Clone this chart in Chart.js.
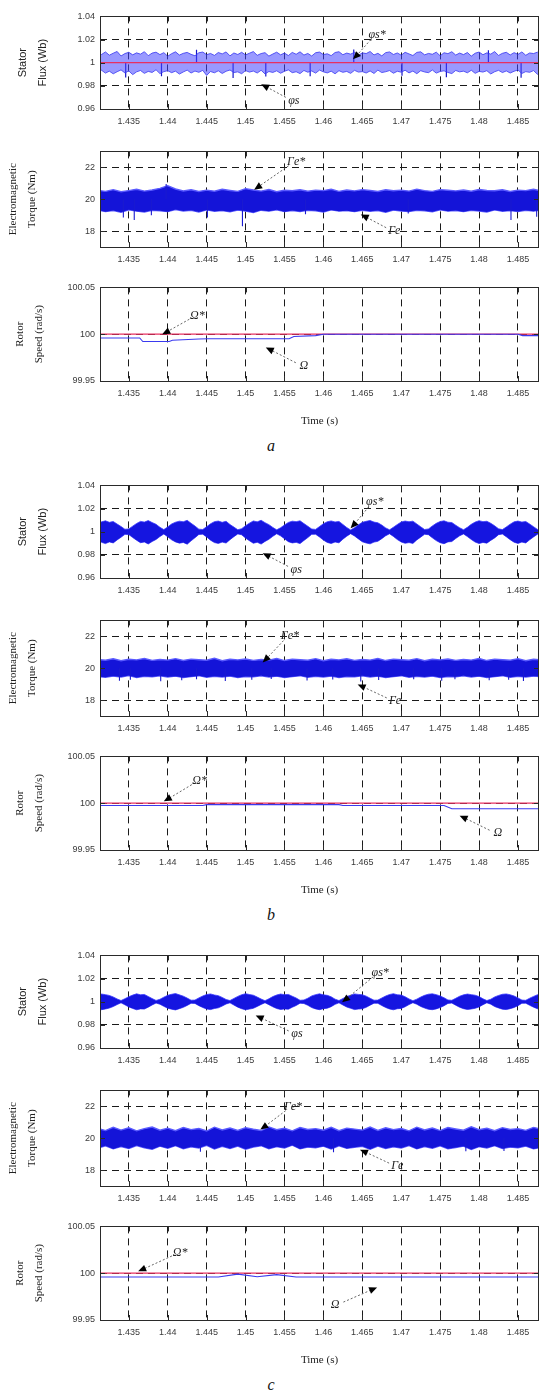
<!DOCTYPE html>
<html>
<head>
<meta charset="utf-8">
<script src="https://cdn.jsdelivr.net/npm/chart.js@4.4.1/dist/chart.umd.min.js"></script>
<style>
  html, body { margin: 0; padding: 0; background: #fff; }
  #fig { position: relative; width: 542px; height: 1391px; overflow: hidden; background: #fff; }
  #fig canvas { position: absolute; left: 0; }
  .tag { position: absolute; left: 0; width: 542px; text-align: center;
         font: italic 16px "Liberation Serif", "DejaVu Serif", serif; color: #111; line-height: 18px; }
</style>
</head>
<body>
<div id="fig"></div>
<script>
// ---- axes ----
const X_MIN = 1.4313, X_MAX = 1.4877;
const X_TICKS = [1.435, 1.44, 1.445, 1.45, 1.455, 1.46, 1.465, 1.47, 1.475, 1.48, 1.485];
const X_TICK_LABELS = ['1.435', '1.44', '1.445', '1.45', '1.455', '1.46', '1.465', '1.47', '1.475', '1.48', '1.485'];
const FLUX_TICKS = [0.96, 0.98, 1, 1.02, 1.04];
const FLUX_TICK_LABELS = ['0.96', '0.98', '1', '1.02', '1.04'];
const TORQUE_TICKS = [18, 20, 22];
const TORQUE_TICK_LABELS = ['18', '20', '22'];
const SPEED_TICKS = [99.95, 100, 100.05];
const SPEED_TICK_LABELS = ['99.95', '100', '100.05'];

// ---- references ----
const REF_T = [1.431, 1.488];
const FLUX_REF = [1, 1];
const TORQUE_REF = [20, 20];
const SPEED_REF = [100, 100];

// ---- stator flux envelopes (sampled every 0.5 ms from 1.431 s) ----
const FLUX_T0 = 1.431, FLUX_DT = 0.0005;
const FLUX_A_UP = [
1.0088,1.0071,1.0093,1.0065,1.0082,1.0097,1.0058,1.0079,1.0090,1.0068,
1.0085,1.0074,1.0095,1.0061,1.0083,1.0091,1.0070,1.0087,1.0056,1.0078,
1.0094,1.0066,1.0081,1.0089,1.0072,1.0060,1.0086,1.0092,1.0069,1.0080,
1.0063,1.0088,1.0076,1.0093,1.0059,1.0084,1.0071,1.0090,1.0067,1.0082,
1.0096,1.0064,1.0079,1.0087,1.0057,1.0075,1.0091,1.0068,1.0083,1.0062,
1.0089,1.0073,1.0094,1.0066,1.0080,1.0058,1.0086,1.0092,1.0070,1.0077,
1.0061,1.0088,1.0095,1.0069,1.0083,1.0074,1.0090,1.0063,1.0085,1.0079,
1.0097,1.0067,1.0081,1.0059,1.0087,1.0093,1.0071,1.0084,1.0065,1.0090,
1.0076,1.0062,1.0089,1.0094,1.0068,1.0080,1.0073,1.0091,1.0060,1.0086,
1.0078,1.0095,1.0066,1.0083,1.0070,1.0088,1.0057,1.0082,1.0092,1.0069,
1.0085,1.0074,1.0096,1.0063,1.0081,1.0090,1.0067,1.0087,1.0072,1.0093,
1.0064,1.0084,1.0079,1.0091,1.0070];
const FLUX_A_LO = [
0.9918,0.9935,0.9910,0.9927,0.9904,0.9922,0.9938,0.9912,0.9929,0.9897,
0.9921,0.9933,0.9908,0.9925,0.9916,0.9939,0.9906,0.9923,0.9931,0.9914,
0.9927,0.9902,0.9920,0.9936,0.9911,0.9928,0.9917,0.9934,0.9890,0.9924,
0.9913,0.9930,0.9907,0.9926,0.9937,0.9915,0.9921,0.9905,0.9932,0.9919,
0.9928,0.9911,0.9935,0.9903,0.9924,0.9916,0.9930,0.9909,0.9926,0.9938,
0.9914,0.9922,0.9906,0.9933,0.9918,0.9929,0.9910,0.9936,0.9921,0.9912,
0.9927,0.9904,0.9931,0.9917,0.9925,0.9908,0.9934,0.9919,0.9923,0.9911,
0.9929,0.9907,0.9936,0.9915,0.9922,0.9932,0.9909,0.9926,0.9918,0.9935,
0.9912,0.9928,0.9905,0.9931,0.9920,0.9914,0.9937,0.9910,0.9924,0.9930,
0.9916,0.9906,0.9933,0.9921,0.9927,0.9913,0.9935,0.9908,0.9925,0.9919,
0.9931,0.9903,0.9922,0.9934,0.9915,0.9929,0.9911,0.9926,0.9938,0.9907,
0.9923,0.9917,0.9932,0.9900,0.9920];
const FLUX_A_SPIKE_T = [1.4346, 1.4392, 1.4437, 1.4484, 1.4526, 1.4583, 1.4639, 1.4701, 1.4758, 1.4812, 1.4854];
const FLUX_A_SPIKE_V = [0.9872, 0.9884, 1.0112, 0.9868, 0.9880, 0.9883, 1.0115, 0.9887, 0.9875, 1.0108, 0.9870];

const FLUX_B_UP = [
1.0072,1.0085,1.0094,1.0081,1.0088,1.0066,1.0045,1.0021,1.0024,1.0048,
1.0071,1.0089,1.0083,1.0096,1.0079,1.0064,1.0038,1.0018,1.0041,1.0067,
1.0082,1.0091,1.0086,1.0098,1.0073,1.0049,1.0022,1.0019,1.0043,1.0068,
1.0087,1.0092,1.0081,1.0090,1.0062,1.0040,1.0017,1.0026,1.0052,1.0074,
1.0093,1.0085,1.0099,1.0078,1.0061,1.0037,1.0016,1.0034,1.0058,1.0080,
1.0091,1.0087,1.0094,1.0070,1.0047,1.0023,1.0020,1.0044,1.0069,1.0086,
1.0093,1.0084,1.0089,1.0063,1.0036,1.0015,1.0035,1.0059,1.0081,1.0090,
1.0097,1.0083,1.0077,1.0057,1.0033,1.0016,1.0039,1.0062,1.0084,1.0092,
1.0086,1.0091,1.0067,1.0042,1.0019,1.0024,1.0050,1.0072,1.0088,1.0094,
1.0082,1.0079,1.0056,1.0034,1.0017,1.0038,1.0064,1.0083,1.0095,1.0087,
1.0090,1.0073,1.0051,1.0025,1.0018,1.0041,1.0065,1.0085,1.0092,1.0083,
1.0088,1.0066,1.0043,1.0020,1.0023];
const FLUX_B_LO = [
0.9925,0.9908,0.9897,0.9912,0.9903,0.9929,0.9952,0.9977,0.9975,0.9950,
0.9926,0.9905,0.9911,0.9894,0.9915,0.9933,0.9958,0.9980,0.9956,0.9930,
0.9912,0.9901,0.9907,0.9892,0.9921,0.9948,0.9976,0.9979,0.9955,0.9927,
0.9906,0.9899,0.9910,0.9902,0.9931,0.9957,0.9981,0.9973,0.9945,0.9922,
0.9900,0.9909,0.9893,0.9916,0.9934,0.9960,0.9982,0.9964,0.9939,0.9914,
0.9903,0.9908,0.9897,0.9924,0.9949,0.9977,0.9978,0.9954,0.9928,0.9907,
0.9898,0.9911,0.9904,0.9935,0.9961,0.9983,0.9963,0.9938,0.9913,0.9902,
0.9895,0.9910,0.9917,0.9940,0.9965,0.9982,0.9959,0.9932,0.9911,0.9900,
0.9906,0.9899,0.9929,0.9953,0.9978,0.9974,0.9947,0.9923,0.9905,0.9896,
0.9912,0.9915,0.9941,0.9964,0.9981,0.9958,0.9933,0.9910,0.9898,0.9907,
0.9901,0.9925,0.9946,0.9974,0.9980,0.9956,0.9931,0.9909,0.9899,0.9910,
0.9903,0.9930,0.9955,0.9978,0.9975];

const FLUX_C_UP = [
1.0058,1.0066,1.0061,1.0054,1.0041,1.0024,1.0010,1.0026,1.0043,1.0057,
1.0068,1.0060,1.0063,1.0045,1.0027,1.0011,1.0021,1.0039,1.0055,1.0064,
1.0070,1.0059,1.0048,1.0031,1.0013,1.0014,1.0033,1.0049,1.0062,1.0067,
1.0058,1.0052,1.0037,1.0019,1.0010,1.0028,1.0046,1.0060,1.0069,1.0062,
1.0056,1.0040,1.0023,1.0009,1.0025,1.0044,1.0058,1.0066,1.0061,1.0063,
1.0047,1.0032,1.0012,1.0015,1.0030,1.0050,1.0061,1.0068,1.0059,1.0055,
1.0042,1.0022,1.0010,1.0027,1.0045,1.0056,1.0067,1.0063,1.0060,1.0048,
1.0030,1.0013,1.0014,1.0032,1.0049,1.0062,1.0069,1.0060,1.0057,1.0043,
1.0024,1.0009,1.0022,1.0040,1.0055,1.0065,1.0068,1.0061,1.0050,1.0034,
1.0015,1.0012,1.0029,1.0047,1.0059,1.0066,1.0061,1.0056,1.0044,1.0025,
1.0010,1.0021,1.0041,1.0054,1.0064,1.0067,1.0060,1.0049,1.0033,1.0014,
1.0012,1.0030,1.0046,1.0060,1.0065];
const FLUX_C_LO = [
0.9940,0.9931,0.9937,0.9945,0.9958,0.9975,0.9990,0.9973,0.9955,0.9942,
0.9930,0.9938,0.9936,0.9953,0.9972,0.9988,0.9978,0.9960,0.9944,0.9935,
0.9929,0.9940,0.9951,0.9968,0.9986,0.9985,0.9966,0.9950,0.9937,0.9932,
0.9941,0.9947,0.9962,0.9980,0.9990,0.9971,0.9953,0.9939,0.9930,0.9936,
0.9943,0.9959,0.9976,0.9991,0.9974,0.9956,0.9941,0.9933,0.9938,0.9935,
0.9952,0.9967,0.9987,0.9984,0.9969,0.9949,0.9938,0.9931,0.9940,0.9944,
0.9957,0.9977,0.9990,0.9972,0.9954,0.9943,0.9932,0.9936,0.9939,0.9951,
0.9970,0.9987,0.9986,0.9967,0.9950,0.9937,0.9930,0.9939,0.9942,0.9956,
0.9975,0.9991,0.9978,0.9959,0.9945,0.9934,0.9931,0.9938,0.9949,0.9965,
0.9985,0.9988,0.9970,0.9952,0.9940,0.9933,0.9937,0.9943,0.9955,0.9974,
0.9990,0.9979,0.9958,0.9946,0.9935,0.9932,0.9940,0.9950,0.9966,0.9986,
0.9987,0.9969,0.9953,0.9939,0.9934];

// ---- electromagnetic torque envelopes (sampled every 1 ms from 1.431 s) ----
const TORQUE_T0 = 1.431, TORQUE_DT = 0.001;
const TORQUE_A_UP = [
20.56,20.49,20.60,20.47,20.54,20.62,20.51,20.58,20.68,20.85,
20.64,20.52,20.59,20.48,20.57,20.50,20.62,20.55,20.49,20.66,
20.58,20.51,20.61,20.47,20.56,20.53,20.59,20.50,20.57,20.54,
20.62,20.49,20.58,20.52,20.60,20.55,20.48,20.59,20.53,20.57,
20.51,20.63,20.54,20.49,20.60,20.56,20.52,20.58,20.50,20.61,
20.55,20.53,20.59,20.48,20.57,20.54,20.62,20.51];
const TORQUE_A_LO = [
19.32,19.22,19.29,19.18,19.34,19.25,19.20,19.31,19.27,19.22,
19.35,19.26,19.30,19.19,19.33,19.24,19.28,19.21,19.32,19.26,
19.17,19.31,19.25,19.34,19.22,19.29,19.23,19.30,19.27,19.20,
19.33,19.25,19.28,19.22,19.31,19.24,19.29,19.18,19.32,19.26,
19.23,19.30,19.27,19.21,19.34,19.25,19.29,19.22,19.31,19.26,
19.20,19.33,19.24,19.28,19.23,19.30,19.25,19.32];
const TORQUE_A_SPIKE_T = [1.4343, 1.4357, 1.4379, 1.4398, 1.4451, 1.4496, 1.4577, 1.4709, 1.4841, 1.4874];
const TORQUE_A_SPIKE_V = [18.85, 18.70, 19.00, 20.95, 18.85, 18.30, 19.05, 19.10, 18.70, 18.90];

const TORQUE_B_UP = [
20.55,20.50,20.59,20.47,20.56,20.52,20.61,20.49,20.55,20.51,
20.60,20.48,20.57,20.53,20.50,20.62,20.47,20.56,20.52,20.58,
20.49,20.55,20.51,20.61,20.48,20.57,20.53,20.50,20.60,20.47,
20.56,20.52,20.59,20.49,20.55,20.51,20.61,20.48,20.57,20.53,
20.50,20.60,20.47,20.56,20.52,20.58,20.49,20.55,20.51,20.61,
20.48,20.57,20.53,20.50,20.60,20.47,20.56,20.52];
const TORQUE_B_LO = [
19.48,19.43,19.51,19.45,19.54,19.42,19.49,19.46,19.52,19.44,
19.50,19.41,19.47,19.53,19.43,19.49,19.45,19.51,19.42,19.48,
19.46,19.52,19.44,19.50,19.41,19.47,19.53,19.43,19.49,19.45,
19.51,19.42,19.48,19.46,19.52,19.44,19.50,19.41,19.47,19.53,
19.43,19.49,19.45,19.51,19.42,19.48,19.46,19.52,19.44,19.50,
19.41,19.47,19.53,19.43,19.49,19.45,19.51,19.46];
const TORQUE_B_SPIKE_T = [1.4338, 1.4352, 1.4391, 1.4418, 1.4437, 1.4474, 1.4508, 1.4533, 1.4579, 1.4612, 1.4648, 1.4671, 1.4716, 1.4752, 1.4769, 1.4813, 1.4838, 1.4857];
const TORQUE_B_SPIKE_V = [19.22, 19.28, 19.18, 19.25, 19.30, 19.20, 19.27, 19.32, 19.23, 19.29, 19.17, 19.26, 19.30, 19.21, 19.31, 19.24, 19.28, 19.19];

const TORQUE_C_UP = [
20.62,20.48,20.68,20.51,20.65,20.46,20.60,20.70,20.50,20.63,
20.47,20.67,20.54,20.61,20.45,20.69,20.52,20.64,20.49,20.66,
20.56,20.48,20.71,20.53,20.62,20.46,20.67,20.55,20.60,20.50,
20.68,20.47,20.63,20.57,20.51,20.70,20.49,20.65,20.54,20.61,
20.46,20.69,20.52,20.64,20.48,20.67,20.58,20.50,20.72,20.53,
20.62,20.47,20.66,20.55,20.60,20.49,20.68,20.56];
const TORQUE_C_LO = [
19.38,19.52,19.33,19.48,19.36,19.54,19.40,19.31,19.50,19.37,
19.53,19.34,19.46,19.39,19.55,19.32,19.49,19.35,19.51,19.30,
19.45,19.53,19.34,19.47,19.38,19.56,19.33,19.44,19.40,19.50,
19.32,19.52,19.36,19.43,19.49,19.31,19.51,19.35,19.46,19.39,
19.54,19.33,19.48,19.37,19.52,19.34,19.42,19.50,19.29,19.47,
19.38,19.53,19.35,19.45,19.40,19.51,19.33,19.43];
const TORQUE_C_SPIKE_T = [1.4442, 1.4613, 1.4783, 1.4832];
const TORQUE_C_SPIKE_V = [19.15, 19.12, 19.18, 19.20];

// ---- rotor speed (breakpoints) ----
const SPEED_A_T = [1.431, 1.4364, 1.4368, 1.4402, 1.4406, 1.4440, 1.4452, 1.4556, 1.4562, 1.4590, 1.4600, 1.4850, 1.4856, 1.488];
const SPEED_A   = [99.9960, 99.9960, 99.9922, 99.9922, 99.9935, 99.9948, 99.9952, 99.9952, 99.9975, 99.9985, 100.0, 100.0, 99.9985, 99.9985];
const SPEED_B_T = [1.431, 1.4445, 1.4450, 1.4620, 1.4625, 1.4755, 1.4765, 1.488];
const SPEED_B   = [99.9975, 99.9975, 99.9985, 99.9985, 99.9975, 99.9975, 99.9940, 99.9940];
const SPEED_C_T = [1.431, 1.4465, 1.4490, 1.4515, 1.4540, 1.4565, 1.488];
const SPEED_C   = [99.9960, 99.9960, 99.9990, 99.9962, 99.9985, 99.9960, 99.9960];

// ---- arrow labels (label point -> arrow tip, data units) ----
const FLUX_NOTES = [
  [{ text: 'φs*', lx: 1.4669, ly: 1.0243, tx: 1.4638, ty: 1.0029 }, { text: 'φs', lx: 1.4562, ly: 0.9674, tx: 1.4520, ty: 0.9814 }],
  [{ text: 'φs*', lx: 1.4666, ly: 1.0260, tx: 1.4635, ty: 1.0029 }, { text: 'φs', lx: 1.4565, ly: 0.9674, tx: 1.4522, ty: 0.9814 }],
  [{ text: 'φs*', lx: 1.4673, ly: 1.0251, tx: 1.4624, ty: 0.9996 }, { text: 'φs', lx: 1.4566, ly: 0.9723, tx: 1.4513, ty: 0.9880 }]
];
const TORQUE_NOTES = [
  [{ text: 'Γe*', lx: 1.4565, ly: 22.34, tx: 1.4511, ty: 20.60 }, { text: 'Γe', lx: 1.4691, ly: 18.02, tx: 1.4648, ty: 19.04 }],
  [{ text: 'Γe*', lx: 1.4557, ly: 22.04, tx: 1.4522, ty: 20.36 }, { text: 'Γe', lx: 1.4692, ly: 17.96, tx: 1.4644, ty: 18.98 }],
  [{ text: 'Γe*', lx: 1.4561, ly: 21.98, tx: 1.4519, ty: 20.54 }, { text: 'Γe', lx: 1.4695, ly: 18.26, tx: 1.4647, ty: 19.28 }]
];
const SPEED_NOTES = [
  [{ text: 'Ω*', lx: 1.4438, ly: 100.0194, tx: 1.4393, ty: 100.0 }, { text: 'Ω', lx: 1.4575, ly: 99.9663, tx: 1.4526, ty: 99.9857 }],
  [{ text: 'Ω*', lx: 1.4441, ly: 100.0235, tx: 1.4395, ty: 100.002 }, { text: 'Ω', lx: 1.4824, ly: 99.968, tx: 1.4775, ty: 99.9867 }],
  [{ text: 'Ω*', lx: 1.4416, ly: 100.0214, tx: 1.4362, ty: 100.002 }, { text: 'Ω', lx: 1.4615, ly: 99.9663, tx: 1.4669, ty: 99.9847 }]
];

const GROUP_TAGS = ['a', 'b', 'c'];

// ---- layout (pixels) ----
const GROUP_SHIFT = [0, 469, 939];
const PANEL_BOX = {
  flux:   { top: 12,  h: 97,  below: 24 },
  torque: { top: 147, h: 100, below: 24 },
  speed:  { top: 283, h: 98,  below: 52 }
};
const TAG_TOP = 437;
const PAD_TOP = 6;

const RED = '#e83060';
const SANS = '"Liberation Sans", Arial, sans-serif';
const SERIF = '"Liberation Serif", "Times New Roman", serif';

// ---- helpers turning the arrays into {x, y} points ----
const sampled = (t0, dt, vals) => vals.map((v, i) => ({ x: +(t0 + i * dt).toFixed(4), y: v }));
const pairs = (ts, vs) => ts.map((t, i) => ({ x: t, y: vs[i] }));
const strokes = (ts, vs, base) => {
  const out = [];
  ts.forEach((t, i) => { out.push({ x: t, y: base }, { x: t, y: vs[i] }, { x: t, y: null }); });
  return out;
};

// box outline and inward tick marks
const frame = {
  id: 'frame',
  afterDraw(chart) {
    const { ctx, chartArea: a, scales: { x, y } } = chart;
    ctx.save();
    ctx.strokeStyle = '#2a2a2a';
    ctx.lineWidth = 1;
    ctx.setLineDash([]);
    ctx.beginPath();
    x.ticks.forEach(t => {
      const p = Math.round(x.getPixelForValue(t.value)) + 0.5;
      ctx.moveTo(p, a.top); ctx.lineTo(p, a.top + 5);
      ctx.moveTo(p, a.bottom); ctx.lineTo(p, a.bottom - 5);
    });
    y.ticks.forEach(t => {
      const p = Math.round(y.getPixelForValue(t.value)) + 0.5;
      ctx.moveTo(a.left, p); ctx.lineTo(a.left + 5, p);
      ctx.moveTo(a.right, p); ctx.lineTo(a.right - 5, p);
    });
    ctx.stroke();
    ctx.strokeRect(Math.round(a.left) + 0.5, Math.round(a.top) + 0.5,
                   Math.round(a.right - a.left) - 1, Math.round(a.bottom - a.top));
    ctx.restore();
  }
};

// leader lines with arrowheads and their labels
const arrowNotes = {
  id: 'arrowNotes',
  afterDatasetsDraw(chart, args, opts) {
    const items = opts.items || [];
    const { ctx, scales: { x, y } } = chart;
    ctx.save();
    items.forEach(n => {
      const lx = x.getPixelForValue(n.lx), ly = y.getPixelForValue(n.ly);
      const tx = x.getPixelForValue(n.tx), ty = y.getPixelForValue(n.ty);
      const dx = tx - lx, dy = ty - ly, len = Math.hypot(dx, dy);
      const ux = dx / len, uy = dy / len;
      ctx.strokeStyle = '#555';
      ctx.lineWidth = 0.9;
      ctx.setLineDash([2, 2]);
      ctx.beginPath();
      ctx.moveTo(lx + ux * 9, ly + uy * 7);
      ctx.lineTo(tx - ux * 5, ty - uy * 5);
      ctx.stroke();
      ctx.setLineDash([]);
      const bx = tx - ux * 8, by = ty - uy * 8;
      ctx.fillStyle = '#000';
      ctx.beginPath();
      ctx.moveTo(tx, ty);
      ctx.lineTo(bx - uy * 3.5, by + ux * 3.5);
      ctx.lineTo(bx + uy * 3.5, by - ux * 3.5);
      ctx.closePath();
      ctx.fill();
      ctx.fillStyle = '#222';
      ctx.font = 'italic 12px ' + SERIF;
      ctx.textAlign = 'center';
      ctx.textBaseline = 'middle';
      ctx.fillText(n.text, lx, ly);
    });
    ctx.restore();
  }
};

const fig = document.getElementById('fig');

function makePanel(top, box, cfg) {
  const c = document.createElement('canvas');
  const H = PAD_TOP + box.h + box.below;
  c.width = 542; c.height = H;
  c.style.top = (top - PAD_TOP) + 'px';
  fig.appendChild(c);
  const tickFont = { family: SANS, size: 9 };
  return new Chart(c, {
    type: 'line',
    data: { datasets: cfg.datasets },
    options: {
      responsive: false, animation: false, events: [],
      layout: { padding: { top: PAD_TOP, right: 3, left: 0, bottom: 0 } },
      plugins: { legend: { display: false }, tooltip: { enabled: false }, arrowNotes: { items: cfg.notes } },
      elements: { point: { radius: 0 }, line: { tension: 0 } },
      scales: {
        x: {
          type: 'linear', min: X_MIN, max: X_MAX,
          afterBuildTicks: s => { s.ticks = X_TICKS.map(v => ({ value: v })); },
          afterFit: s => { s.height = box.below; },
          ticks: { padding: 7, maxRotation: 0, autoSkip: false, color: '#3a3a3a', font: tickFont,
                   callback: v => X_TICK_LABELS[X_TICKS.indexOf(v)] },
          grid: { color: '#1a1a1a', lineWidth: 1, drawTicks: false },
          border: { display: false, dash: [7, 5] },
          title: cfg.xTitle
            ? { display: true, text: cfg.xTitle, color: '#222', font: { family: SERIF, size: 11 }, padding: { top: 0, bottom: 5 } }
            : { display: false }
        },
        y: {
          type: 'linear', min: cfg.yMin, max: cfg.yMax,
          afterBuildTicks: s => { s.ticks = cfg.yTicks.map(v => ({ value: v })); },
          afterFit: s => { s.width = 100; },
          ticks: { padding: 5, color: '#3a3a3a', font: tickFont,
                   callback: v => cfg.yLabels[cfg.yTicks.indexOf(v)] },
          grid: { color: '#1a1a1a', lineWidth: 1, drawTicks: false },
          border: { display: false, dash: [7, 5] },
          title: { display: true, text: cfg.yTitle, color: '#222',
                   font: { family: cfg.titleFamily, size: 11, lineHeight: cfg.titleLine / 11 },
                   padding: { top: cfg.titlePad, bottom: 0 } }
        }
      }
    },
    plugins: [frame, arrowNotes]
  });
}

const FLUX_SETS = [
  { up: FLUX_A_UP, lo: FLUX_A_LO, fill: 'rgba(70,70,255,0.55)', edge: '#3333f0', refOnTop: true },
  { up: FLUX_B_UP, lo: FLUX_B_LO, fill: '#1515e0', edge: '#3a3aff', refOnTop: false },
  { up: FLUX_C_UP, lo: FLUX_C_LO, fill: '#1515e0', edge: '#3a3aff', refOnTop: false }
];
const TORQUE_SETS = [
  { up: TORQUE_A_UP, lo: TORQUE_A_LO, st: TORQUE_A_SPIKE_T, sv: TORQUE_A_SPIKE_V },
  { up: TORQUE_B_UP, lo: TORQUE_B_LO, st: TORQUE_B_SPIKE_T, sv: TORQUE_B_SPIKE_V },
  { up: TORQUE_C_UP, lo: TORQUE_C_LO, st: TORQUE_C_SPIKE_T, sv: TORQUE_C_SPIKE_V }
];
const SPEED_SETS = [
  { t: SPEED_A_T, v: SPEED_A },
  { t: SPEED_B_T, v: SPEED_B },
  { t: SPEED_C_T, v: SPEED_C }
];

const refLine = (vals, w) => ({ data: pairs(REF_T, vals), borderColor: RED, borderWidth: w, fill: false, clip: 0 });

GROUP_SHIFT.forEach((shift, g) => {
  // stator flux
  const f = FLUX_SETS[g];
  const fluxBand = [
    { data: sampled(FLUX_T0, FLUX_DT, f.up), borderColor: f.edge, borderWidth: 0.8, backgroundColor: f.fill, fill: '+1', clip: 0 },
    { data: sampled(FLUX_T0, FLUX_DT, f.lo), borderColor: f.edge, borderWidth: 0.8, fill: false, clip: 0 }
  ];
  const fluxSets = [];
  if (f.refOnTop) fluxSets.push(refLine(FLUX_REF, 1.3));
  fluxSets.push(...fluxBand);
  if (g === 0) fluxSets.push({ data: strokes(FLUX_A_SPIKE_T, FLUX_A_SPIKE_V, FLUX_REF[0]), borderColor: '#1818c8', borderWidth: 1.2, fill: false, clip: 0 });
  if (!f.refOnTop) fluxSets.push(refLine(FLUX_REF, 1.2));
  makePanel(shift + PANEL_BOX.flux.top, PANEL_BOX.flux, {
    datasets: fluxSets, notes: FLUX_NOTES[g],
    yMin: 0.96, yMax: 1.04, yTicks: FLUX_TICKS, yLabels: FLUX_TICK_LABELS,
    yTitle: ['Stator', 'Flux (Wb)'], titleFamily: SANS, titleLine: 20, titlePad: 13
  });

  // electromagnetic torque
  const q = TORQUE_SETS[g];
  makePanel(shift + PANEL_BOX.torque.top, PANEL_BOX.torque, {
    datasets: [
      { data: strokes(q.st, q.sv, TORQUE_REF[0]), borderColor: '#1a1ad0', borderWidth: 1.1, fill: false, clip: 0 },
      { data: sampled(TORQUE_T0, TORQUE_DT, q.up), borderColor: '#5a5aff', borderWidth: 1.4, backgroundColor: '#1414d8', fill: '+1', clip: 0 },
      { data: sampled(TORQUE_T0, TORQUE_DT, q.lo), borderColor: '#5a5aff', borderWidth: 1.4, fill: false, clip: 0 },
      refLine(TORQUE_REF, 1.2)
    ],
    notes: TORQUE_NOTES[g],
    yMin: 17, yMax: 23, yTicks: TORQUE_TICKS, yLabels: TORQUE_TICK_LABELS,
    yTitle: ['Electromagnetic', 'Torque (Nm)'], titleFamily: SERIF, titleLine: 19, titlePad: 4
  });

  // rotor speed
  const s = SPEED_SETS[g];
  makePanel(shift + PANEL_BOX.speed.top, PANEL_BOX.speed, {
    datasets: [
      { data: pairs(s.t, s.v), borderColor: '#3a3aef', borderWidth: 1.1, fill: false, clip: 0 },
      refLine(SPEED_REF, 1.2)
    ],
    notes: SPEED_NOTES[g],
    yMin: 99.95, yMax: 100.05, yTicks: SPEED_TICKS, yLabels: SPEED_TICK_LABELS,
    yTitle: ['Rotor', 'Speed (rad/s)'], titleFamily: SERIF, titleLine: 19, titlePad: 11,
    xTitle: 'Time (s)'
  });

  const tag = document.createElement('div');
  tag.className = 'tag';
  tag.style.top = (shift + TAG_TOP) + 'px';
  tag.textContent = GROUP_TAGS[g];
  fig.appendChild(tag);
});
</script>
</body>
</html>
